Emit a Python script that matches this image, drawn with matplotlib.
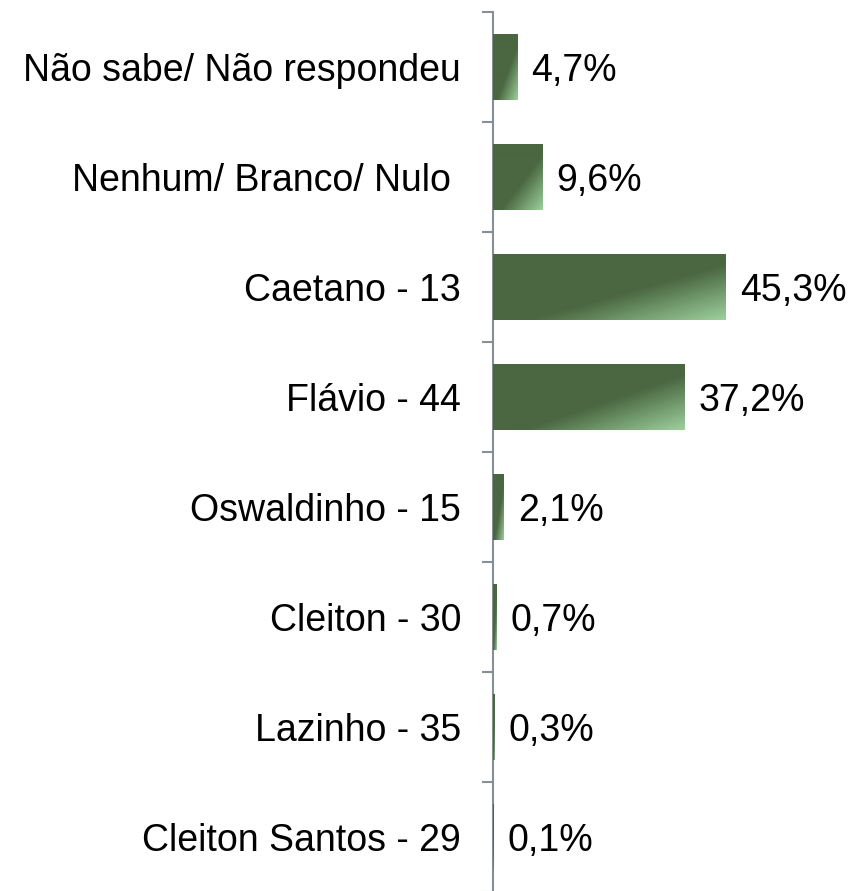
import numpy as np
import matplotlib
matplotlib.use("Agg")
import matplotlib.pyplot as plt
from matplotlib.colors import LinearSegmentedColormap

plt.rcParams['font.family'] = ['Liberation Sans', 'DejaVu Sans']

categories = ["Não sabe/ Não respondeu", "Nenhum/ Branco/ Nulo ", "Caetano - 13",
              "Flávio - 44", "Oswaldinho - 15", "Cleiton - 30", "Lazinho - 35",
              "Cleiton Santos - 29"]
values = [4.7, 9.6, 45.3, 37.2, 2.1, 0.7, 0.3, 0.1]
value_labels = ["4,7%", "9,6%", "45,3%", "37,2%", "2,1%", "0,7%", "0,3%", "0,1%"]

W, H = 850, 891
fig = plt.figure(figsize=(W / 100, H / 100), dpi=100)
ax_left = 493 / W
ax_top = 1 - 12 / H
ax_h = 880 / H
ax = fig.add_axes([ax_left, ax_top - ax_h, 1 - ax_left, ax_h])

dark = "#4a6741"
light = "#9dd09d"
cmap = LinearSegmentedColormap.from_list("g", [(0, dark), (0.58, dark), (1.0, light)])

n = len(categories)
ypos = np.arange(n)
bars = ax.barh(ypos, values, height=0.6, color=dark, edgecolor='none', zorder=2)

# gradient overlay in each bar's own coordinates (light towards bottom-right)
gu, gv = np.meshgrid(np.linspace(0, 1, 200), np.linspace(0, 1, 100))
grad = (gu + gv) / 2.0
for b in bars:
    x0, y0 = b.get_x(), b.get_y()
    w, h = b.get_width(), b.get_height()
    im = ax.imshow(grad, cmap=cmap, vmin=0, vmax=1, aspect='auto',
                   origin='upper', zorder=3, interpolation='bilinear')
    im.set_extent((x0, x0 + w, y0 + h, y0))
    im.set_clip_path(b)

for b, lab in zip(bars, value_labels):
    ax.annotate(lab, xy=(b.get_width(), b.get_y() + b.get_height() / 2),
                xytext=(10, 0), textcoords='offset points', va='center_baseline',
                ha='left', fontsize=27, color='black', zorder=4)

ax.set_xlim(0, (W - 493) / 5.14)
ax.set_ylim(n - 0.5, -0.5)

ax.set_yticks(ypos)
ax.set_yticklabels(categories, fontsize=27)
ax.tick_params(axis='y', which='major', length=0, pad=23)
ax.set_yticks(np.arange(-0.5, n + 0.5, 1), minor=True)
ax.tick_params(axis='y', which='minor', length=8, width=1.5, color='#868e96')
ax.set_xticks([])

for s in ['top', 'right', 'bottom']:
    ax.spines[s].set_visible(False)
ax.spines['left'].set_color('#868e96')
ax.spines['left'].set_linewidth(1.5)
ax.patch.set_alpha(0)

fig.savefig("out.png", dpi=100)
